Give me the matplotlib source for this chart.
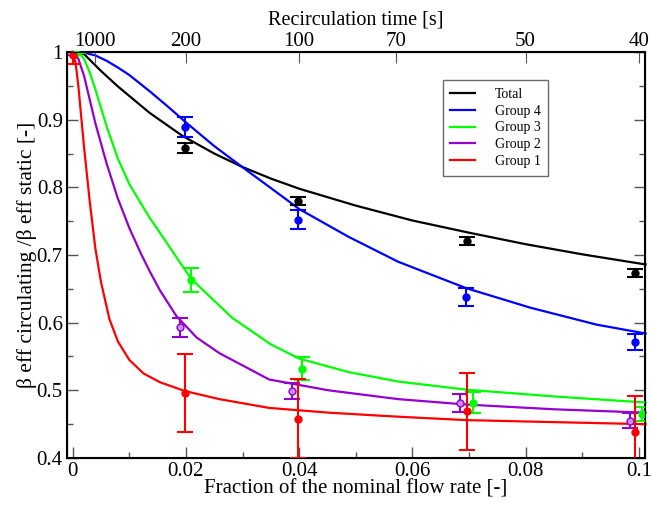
import matplotlib
matplotlib.use("Agg")
import matplotlib.pyplot as plt
from matplotlib.ticker import MultipleLocator

plt.rcParams['font.family'] = ['Liberation Serif', 'DejaVu Serif']

# ---------------- data ----------------
# measured points: x (flow fraction), y (ratio), error
tot_x = [0.0003, 0.0199, 0.0398, 0.0696, 0.0993]
tot_y = [1.000, 0.858, 0.780, 0.721, 0.674]
tot_e = [0.003, 0.007, 0.006, 0.006, 0.006]

g4_x = [0.0, 0.0199, 0.0398, 0.0695, 0.0993]
g4_y = [1.000, 0.889, 0.752, 0.638, 0.571]
g4_e = [0.002, 0.015, 0.014, 0.013, 0.012]

g3_x = [0.001, 0.0209, 0.0405, 0.0707, 0.1005]
g3_y = [1.000, 0.663, 0.532, 0.482, 0.465]
g3_e = [0.002, 0.018, 0.017, 0.015, 0.010]

g2_x = [-0.0005, 0.0189, 0.0387, 0.0685, 0.0984]
g2_y = [1.000, 0.593, 0.499, 0.481, 0.455]
g2_e = [0.002, 0.014, 0.012, 0.013, 0.011]

g1_x = [0.0, 0.0198, 0.0398, 0.0696, 0.0994]
g1_y = [0.995, 0.496, 0.458, 0.469, 0.439]
g1_e = [0.013, 0.058, 0.058, 0.057, 0.053]

# fitted curves
tot_cx = [0, 0.002, 0.005, 0.008, 0.0136, 0.0194, 0.025, 0.03, 0.035, 0.04,
          0.05, 0.06, 0.07, 0.08, 0.09, 0.1012]
tot_cy = [1.0, 0.997, 0.972, 0.949, 0.910, 0.876, 0.850, 0.830, 0.813,
          0.798, 0.773, 0.751, 0.733, 0.716, 0.701, 0.686]

g4_cx = [0, 0.002, 0.004, 0.006, 0.008, 0.010, 0.0136, 0.017, 0.02, 0.025,
         0.0306, 0.035, 0.04, 0.0487, 0.0575, 0.0695, 0.0809, 0.0926, 0.1012]
g4_cy = [1.0, 0.999, 0.995, 0.987, 0.977, 0.966, 0.942, 0.918, 0.896, 0.861,
         0.826, 0.799, 0.768, 0.727, 0.690, 0.651, 0.622, 0.597, 0.584]

g3_cx = [0, 0.001, 0.002, 0.003, 0.004, 0.006, 0.008, 0.010, 0.012, 0.0136,
         0.0154, 0.0209, 0.0282, 0.035, 0.04, 0.0487, 0.0575, 0.0695, 0.085, 0.1012]
g3_cy = [1.0, 1.0, 0.99, 0.97, 0.945, 0.89, 0.842, 0.805, 0.777, 0.755,
         0.733, 0.665, 0.607, 0.568, 0.547, 0.527, 0.513, 0.501, 0.491, 0.482]

g2_cx = [0, 0.001, 0.002, 0.004, 0.006, 0.008, 0.010, 0.012, 0.0136, 0.0154,
         0.0183, 0.0219, 0.0259, 0.0347, 0.0452, 0.0575, 0.0695, 0.085, 0.1012]
g2_cy = [1.0, 0.99, 0.965, 0.895, 0.835, 0.783, 0.74, 0.703, 0.676, 0.648,
         0.610, 0.578, 0.555, 0.516, 0.500, 0.487, 0.479, 0.472, 0.467]

g1_cx = [0, 0.0005, 0.001, 0.002, 0.003, 0.004, 0.005, 0.0065, 0.008, 0.010,
         0.0125, 0.0154, 0.0198, 0.0259, 0.0347, 0.0452, 0.0575, 0.0695, 0.085, 0.1012]
g1_cy = [1.0, 0.985, 0.95, 0.86, 0.78, 0.71, 0.66, 0.605, 0.572, 0.545,
         0.525, 0.512, 0.499, 0.487, 0.474, 0.467, 0.461, 0.456, 0.453, 0.450]

top_tick_labels = ['1000', '200', '100', '70', '50', '40']
top_tick_times = [1000, 200, 100, 70, 50, 40]

# ---------------- plot ----------------
fig = plt.figure(figsize=(6.52, 5.05), dpi=100)
ax = fig.add_axes([0.1028, 0.0931, 0.8865, 0.8039])

series = [
    ('Total', 'black', tot_cx, tot_cy, tot_x, tot_y, tot_e),
    ('Group 4', '#0000ff', g4_cx, g4_cy, g4_x, g4_y, g4_e),
    ('Group 3', '#00ff00', g3_cx, g3_cy, g3_x, g3_y, g3_e),
    ('Group 2', '#9400d3', g2_cx, g2_cy, g2_x, g2_y, g2_e),
    ('Group 1', '#ff0000', g1_cx, g1_cy, g1_x, g1_y, g1_e),
]

for name, col, cx, cy, px, py, pe in series:
    ax.plot(cx, cy, color=col, lw=1.6, label=name, zorder=3, clip_on=False)
for name, col, cx, cy, px, py, pe in series:
    mfc = col if name != 'Group 2' else '#c78be8'
    ax.errorbar(px, py, yerr=pe, fmt='o', color=col, ms=5, mfc=mfc, mec=col,
                ecolor=col, elinewidth=1.5, capsize=6, capthick=1.5, zorder=4,
                clip_on=True)

ax.set_xlim(-0.001, 0.1011)
ax.set_ylim(0.4, 1.0)
ax.xaxis.set_minor_locator(MultipleLocator(0.01))
ax.yaxis.set_minor_locator(MultipleLocator(0.05))
ax.set_xticks([0, 0.02, 0.04, 0.06, 0.08, 0.1])
ax.set_xticklabels(['0', '0.02', '0.04', '0.06', '0.08', '0.1'])
ax.set_yticks([0.4, 0.5, 0.6, 0.7, 0.8, 0.9, 1.0])
ax.set_yticklabels(['0.4', '0.5', '0.6', '0.7', '0.8', '0.9', '1'])
ax.tick_params(which='both', direction='in', right=True, top=False, labelsize=15,
               color='#555555', width=1)
ax.tick_params(which='major', length=8, pad=3)
ax.tick_params(which='minor', length=4)
for s in ax.spines.values():
    s.set_linewidth(1.5)

ax.set_xlabel('Fraction of the nominal flow rate [-]', fontsize=15, labelpad=-1)
ax.set_ylabel('β eff circulating /β eff static [-]', fontsize=15.5, labelpad=0)

# top axis (recirculation time)
ax2 = ax.twiny()
ax2.set_xlim(ax.get_xlim())
ax2.set_xticks([4.0 / t for t in top_tick_times])
ax2.set_xticklabels(top_tick_labels)
ax2.tick_params(direction='in', length=8, labelsize=15, color='#555555', pad=1)
ax2.set_xlabel('Recirculation time [s]', fontsize=14.5, labelpad=5)

leg = ax.legend(loc='upper left', bbox_to_anchor=(0.65, 0.931), fontsize=10,
                frameon=True, fancybox=False, edgecolor='#444444',
                handlelength=1.8, handletextpad=1.4, borderpad=0.55,
                labelspacing=0.28, borderaxespad=0)
leg.get_frame().set_linewidth(1.0)

fig.savefig('out.png', dpi=100)
